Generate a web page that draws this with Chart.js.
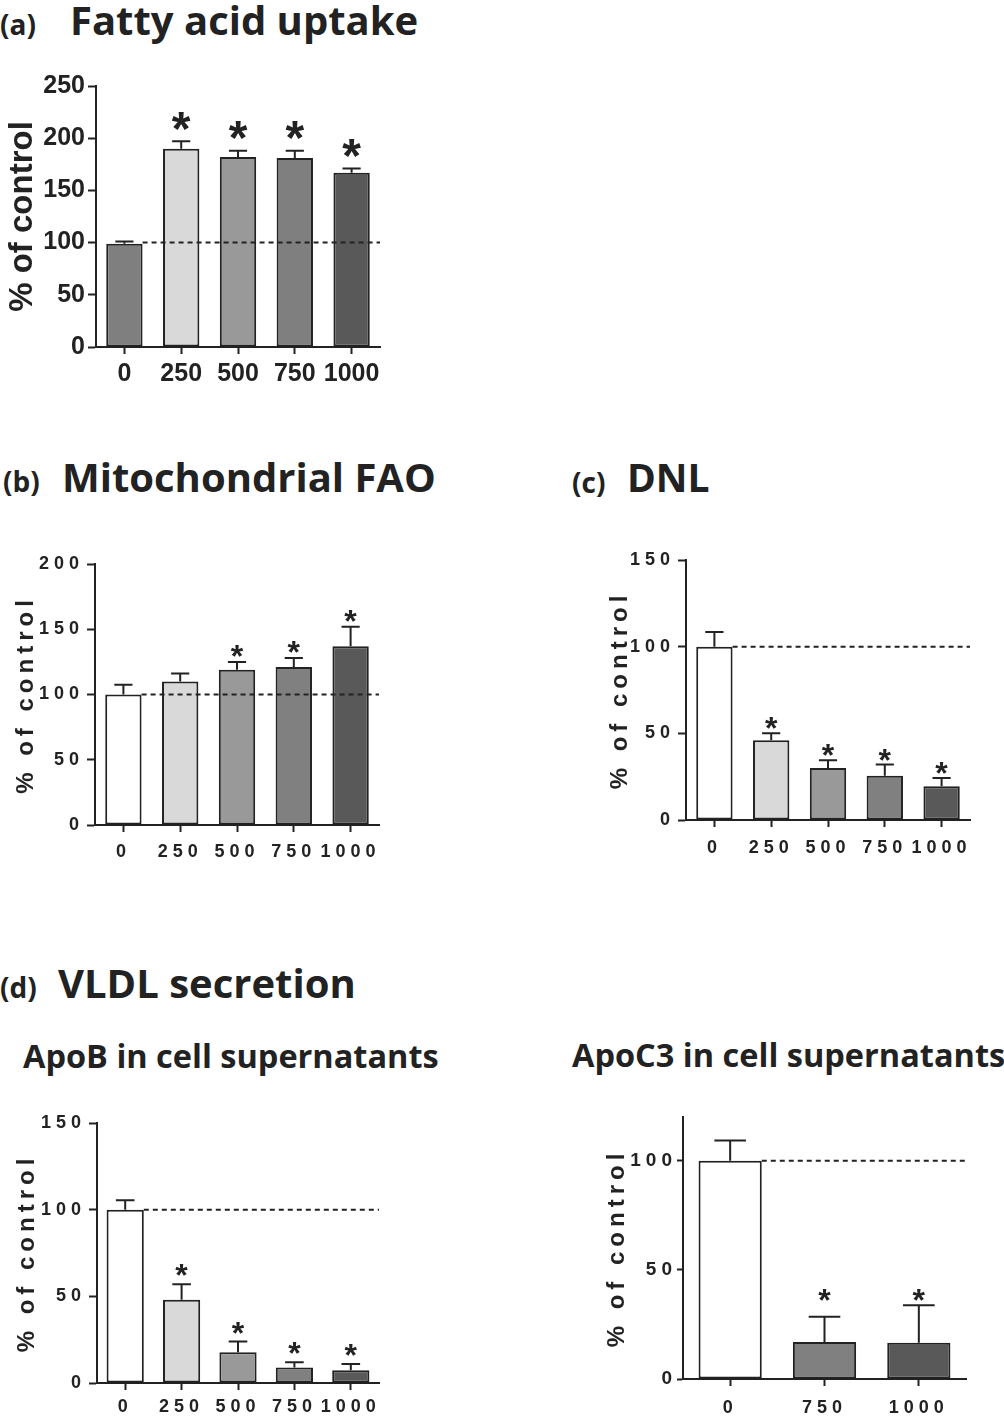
<!DOCTYPE html>
<html>
<head>
<meta charset="utf-8">
<script src="https://cdn.jsdelivr.net/npm/chart.js@4.4.1/dist/chart.umd.min.js"></script>
<style>
  html, body { margin: 0; padding: 0; background: #fff; }
  #page { position: relative; width: 1004px; height: 1417px; overflow: hidden; }
  .txt { position: absolute; font-family: 'Open Sans', Lato, sans-serif; font-weight: 700; color: #222; white-space: nowrap; line-height: normal; }
  canvas { position: absolute; }
</style>
</head>
<body>
<div id="page">
  <div class="txt" style="left:0px;top:5px;font-size:28px">(a)</div>
  <div class="txt" style="left:70px;top:-8px;font-size:40px">Fatty acid uptake</div>
  <canvas id="chart-fau" width="400" height="340" style="left:0px;top:60px"></canvas>

  <div class="txt" style="left:3px;top:462px;font-size:28px">(b)</div>
  <div class="txt" style="left:62px;top:449px;font-size:40px">Mitochondrial FAO</div>
  <canvas id="chart-fao" width="400" height="340" style="left:0px;top:530px"></canvas>

  <div class="txt" style="left:572px;top:463px;font-size:28px">(c)</div>
  <div class="txt" style="left:627px;top:450px;font-size:39px">DNL</div>
  <canvas id="chart-dnl" width="420" height="340" style="left:570px;top:530px"></canvas>

  <div class="txt" style="left:0px;top:968px;font-size:28px">(d)</div>
  <div class="txt" style="left:58px;top:955px;font-size:40px">VLDL secretion</div>
  <div class="txt" style="left:23px;top:1033px;font-size:32.5px">ApoB in cell supernatants</div>
  <div class="txt" style="left:572px;top:1032px;font-size:32.5px">ApoC3 in cell supernatants</div>
  <canvas id="chart-apob" width="400" height="327" style="left:0px;top:1090px"></canvas>
  <canvas id="chart-apoc3" width="424" height="327" style="left:580px;top:1090px"></canvas>
</div>

<script>
// doses on the x axis
const doses = ['0', '250', '500', '750', '1000'];
const dosesApoC3 = ['0', '750', '1000'];

// (a) fatty acid uptake, % of control (mean and SEM)
const fauMean = [99, 190, 182, 181, 167];
const fauSem = [2, 7, 6, 7, 4];
const fauSig = [false, true, true, true, true];

// (b) mitochondrial FAO
const faoMean = [100, 110, 119, 121, 137];
const faoSem = [7.5, 6, 6, 7, 15];
const faoSig = [false, false, true, true, true];

// (c) DNL
const dnlMean = [100, 46, 30, 25.5, 19.5];
const dnlSem = [8.5, 4, 4.5, 6.5, 4.8];
const dnlSig = [false, true, true, true, true];

// (d) ApoB in cell supernatants
const apobMean = [100, 48, 17.8, 9, 7.3];
const apobSem = [5.5, 9, 6.2, 3, 3.7];
const apobSig = [false, true, true, true, true];

// (d) ApoC3 in cell supernatants
const apoc3Mean = [100, 17, 16.6];
const apoc3Sem = [9.2, 11.5, 17.2];
const apoc3Sig = [false, true, true];

const graysA = ['#7f7f7f', '#d9d9d9', '#999999', '#7f7f7f', '#595959'];
const grays = ['#ffffff', '#d9d9d9', '#999999', '#808080', '#595959'];
const graysApoC3 = ['#ffffff', '#808080', '#595959'];

const INK = '#222222';
const AXIS_FAMILY = 'Arial, "Liberation Sans", sans-serif';

// error bars, dashed 100% line and asterisks
const barExtras = {
    id: 'barExtras',
    beforeUpdate(chart, args, opts) {
        chart.ctx.letterSpacing = (opts.spacing || 0) + 'px';
    },
    beforeDraw(chart, args, opts) {
        chart.ctx.letterSpacing = (opts.spacing || 0) + 'px';
    },
    afterDatasetsDraw(chart, args, opts) {
        const ctx = chart.ctx;
        const yScale = chart.scales.y;
        const area = chart.chartArea;
        const bars = chart.getDatasetMeta(0).data;
        const means = chart.data.datasets[0].data;

        ctx.save();
        ctx.letterSpacing = '0px';
        ctx.strokeStyle = INK;
        ctx.lineWidth = 2;

        const caps = bars.map((bar, i) => yScale.getPixelForValue(means[i] + opts.sem[i]));
        bars.forEach((bar, i) => {
            const half = bar.width / 4;
            ctx.beginPath();
            ctx.moveTo(bar.x, bar.y);
            ctx.lineTo(bar.x, caps[i]);
            ctx.moveTo(bar.x - half, caps[i]);
            ctx.lineTo(bar.x + half, caps[i]);
            ctx.stroke();
        });

        // dashed line at 100 %
        const ref = yScale.getPixelForValue(100);
        ctx.setLineDash([5, 4]);
        ctx.beginPath();
        ctx.moveTo(bars[0].x + bars[0].width / 2, ref);
        ctx.lineTo(area.right, ref);
        ctx.stroke();
        ctx.setLineDash([]);

        // significance stars
        ctx.fillStyle = INK;
        ctx.font = 'bold ' + opts.starSize + 'px ' + AXIS_FAMILY;
        ctx.textAlign = 'center';
        ctx.textBaseline = 'alphabetic';
        let topCap = Infinity;
        bars.forEach((bar, i) => { if (opts.sig[i]) topCap = Math.min(topCap, caps[i]); });
        bars.forEach((bar, i) => {
            if (!opts.sig[i]) return;
            const capY = opts.alignStars ? topCap : caps[i];
            ctx.fillText('*', bar.x, capY - opts.starGap + 0.41 * opts.starSize);
        });
        ctx.restore();
    }
};

function axisFont(size) {
    return { family: AXIS_FAMILY, size: size, weight: 'bold' };
}

function buildChart(canvasId, labels, means, sem, sig, colors, p) {
    const ctx = document.getElementById(canvasId).getContext('2d');
    return new Chart(ctx, {
        type: 'bar',
        data: {
            labels: labels,
            datasets: [{
                data: means,
                backgroundColor: colors,
                borderColor: INK,
                borderWidth: 2,
                borderSkipped: false,
                barPercentage: p.barPct,
                categoryPercentage: 1
            }]
        },
        options: {
            responsive: false,
            animation: false,
            layout: { padding: { top: p.padTop, right: p.padRight, left: 0, bottom: 0 } },
            plugins: {
                legend: { display: false },
                tooltip: { enabled: false },
                barExtras: {
                    sem: sem,
                    sig: sig,
                    spacing: p.spacing,
                    starSize: p.starSize,
                    starGap: p.starGap,
                    alignStars: !!p.alignStars
                }
            },
            scales: {
                x: {
                    grid: { display: true, offset: false, drawOnChartArea: false, drawTicks: true, tickLength: 7, tickWidth: 2, tickColor: INK },
                    border: { display: true, color: INK, width: 2 },
                    ticks: { color: INK, font: axisFont(p.tickSize), padding: p.xTickPad, maxRotation: 0, autoSkip: false },
                    afterFit: s => { s.height = p.xHeight; }
                },
                y: {
                    min: 0,
                    max: p.max,
                    grid: { display: true, drawOnChartArea: false, drawTicks: true, tickLength: p.yTickLen || 8, tickWidth: 2, tickColor: INK },
                    border: { display: true, color: INK, width: 2 },
                    ticks: { stepSize: p.step, color: INK, font: axisFont(p.yTickSize || p.tickSize), padding: p.yTickPad === undefined ? 3 : p.yTickPad },
                    title: {
                        display: true,
                        text: '% of control',
                        color: INK,
                        font: axisFont(p.titleSize),
                        padding: { top: p.titlePad, bottom: 0 }
                    },
                    afterBuildTicks: s => { s.ticks = s.ticks.filter(t => t.value % p.step === 0); },
                    afterFit: s => { s.width = p.yWidth; }
                }
            }
        },
        plugins: [barExtras]
    });
}

buildChart('chart-fau', doses, fauMean, fauSem, fauSig, graysA, {
    max: 250, step: 50, tickSize: 25, titleSize: 33, titlePad: 3, spacing: 0,
    yWidth: 96, xHeight: 53, padTop: 26, padRight: 20, xTickPad: 5,
    starSize: 48, starGap: 16, barPct: 0.64
});

buildChart('chart-fao', doses, faoMean, faoSem, faoSig, grays, {
    max: 200, step: 50, tickSize: 18, titleSize: 24, titlePad: 12, spacing: 5,
    yWidth: 95, xHeight: 45, padTop: 34, padRight: 21, xTickPad: 9,
    starSize: 32, starGap: 8, barPct: 0.64
});

buildChart('chart-dnl', doses, dnlMean, dnlSem, dnlSig, grays, {
    max: 150, step: 50, tickSize: 18, titleSize: 24, titlePad: 36, spacing: 5,
    yWidth: 116, xHeight: 50, padTop: 30, padRight: 20, xTickPad: 10,
    starSize: 32, starGap: 7, barPct: 0.64
});

buildChart('chart-apob', doses, apobMean, apobSem, apobSig, grays, {
    max: 150, step: 50, tickSize: 18, titleSize: 24, titlePad: 13, spacing: 5,
    yWidth: 97, xHeight: 34, padTop: 33, padRight: 21, xTickPad: 6,
    starSize: 32, starGap: 11, barPct: 0.66
});

buildChart('chart-apoc3', dosesApoC3, apoc3Mean, apoc3Sem, apoc3Sig, graysApoC3, {
    max: 120, step: 50, tickSize: 18, yTickSize: 19, titleSize: 24, titlePad: 23, spacing: 5,
    yWidth: 103, xHeight: 38, padTop: 27, padRight: 38, xTickPad: 11,
    yTickLen: 6, yTickPad: 0,
    starSize: 32, starGap: 7, alignStars: true, barPct: 0.67
});
</script>
</body>
</html>
